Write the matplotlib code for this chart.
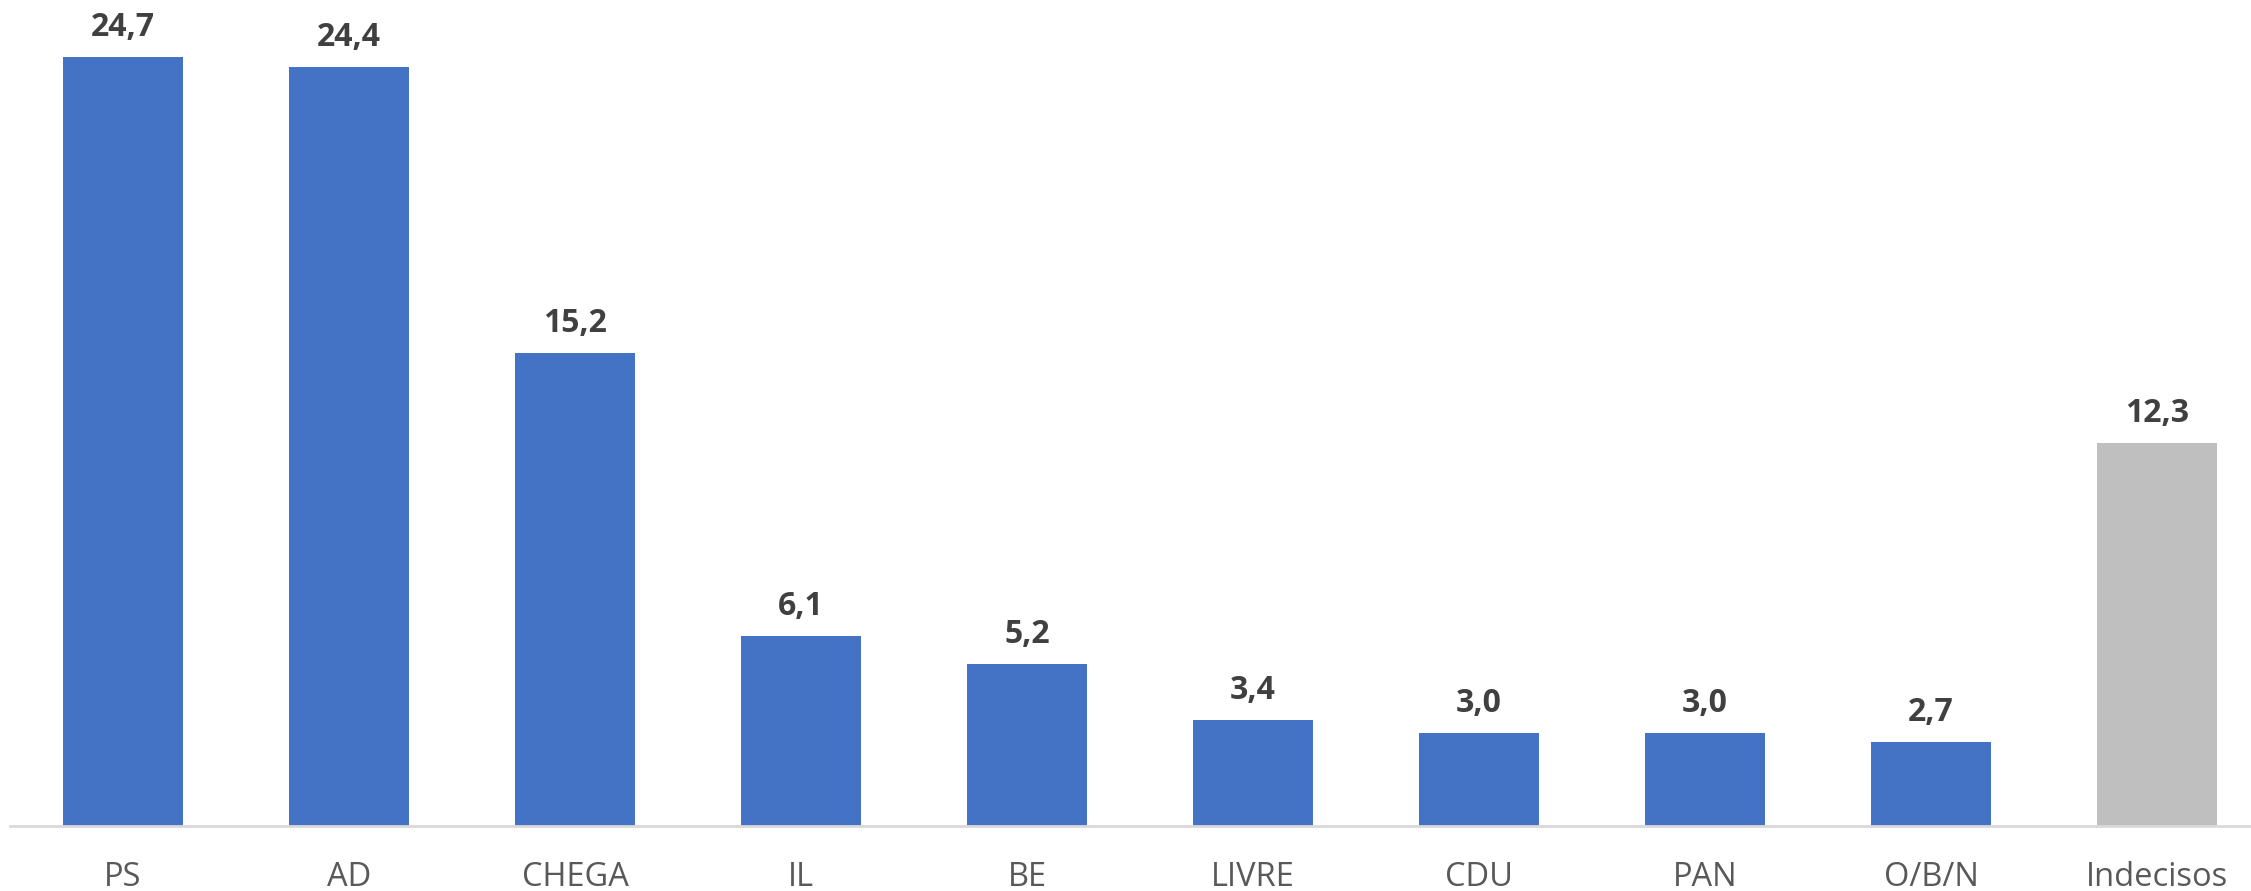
import matplotlib
matplotlib.use("Agg")
import matplotlib.pyplot as plt

categories = ["PS", "AD", "CHEGA", "IL", "BE", "LIVRE", "CDU", "PAN", "O/B/N", "Indecisos"]
values = [24.7, 24.4, 15.2, 6.1, 5.2, 3.4, 3.0, 3.0, 2.7, 12.3]
colors = ["#4472C4"] * 9 + ["#BFBFBF"]

W, H = 2251, 891
fig = plt.figure(figsize=(W / 100, H / 100), dpi=100)
left_px, base_px = 10, 826
ax = fig.add_axes([left_px / W, (H - base_px) / H, (W - left_px) / W, base_px / H])

x = list(range(len(categories)))
bars = ax.bar(x, values, width=0.53, color=colors, zorder=2)

ax.set_xlim(-0.5, 9.416)
ax.set_ylim(0, 26.54)

for spine in ["top", "right", "left"]:
    ax.spines[spine].set_visible(False)
ax.spines["bottom"].set_color("#D9D9D9")
ax.spines["bottom"].set_linewidth(2)
ax.spines["bottom"].set_zorder(3)
ax.set_yticks([])
ax.set_xticks(x)
ax.set_xticklabels(categories, fontsize=23.5, color="#595959", family="Open Sans")
ax.tick_params(axis="x", length=0, pad=25)

for xi, v in zip(x, values):
    ax.annotate(f"{v:.1f}".replace(".", ","), (xi, v), xytext=(0, 15),
                textcoords="offset points", ha="center", va="baseline",
                fontsize=23, fontweight="bold", color="#404040", family="Open Sans")

fig.savefig("out.png", dpi=100)
